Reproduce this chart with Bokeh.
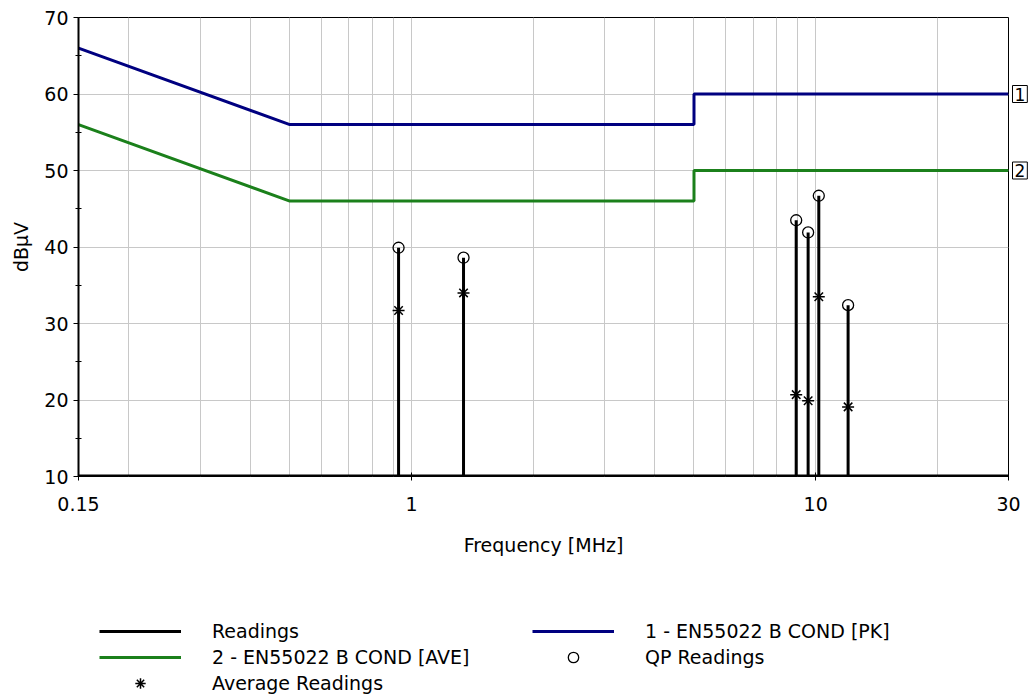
from bokeh.plotting import figure
from bokeh.layouts import column
from bokeh.models import FixedTicker, Legend, LegendItem, Range1d, Label
from bokeh.embed import file_html
from bokeh.resources import INLINE

# ---- data ----
F_MIN, F_MAX = 0.15, 30.0
DB_MIN, DB_MAX = 10, 70
READ_FLOOR = 10

PK_F = [0.15, 0.5, 5.0, 5.0, 30.0]
PK_DB = [66, 56, 56, 60, 60]
AVE_F = [0.15, 0.5, 5.0, 5.0, 30.0]
AVE_DB = [56, 46, 46, 50, 50]

FREQ = [0.929, 1.345, 8.95, 9.58, 10.18, 12.03]
QP = [39.9, 38.6, 43.5, 41.9, 46.7, 32.4]
AVG = [31.7, 34.0, 20.7, 19.9, 33.5, 19.1]

X_TICKS = [0.15, 1, 10, 30]
X_GRID = [0.2, 0.3, 0.4, 0.5, 0.6, 0.7, 0.8, 0.9, 1, 2, 3, 4, 5, 6, 7, 8, 9, 10, 20]
Y_TICKS = [10, 20, 30, 40, 50, 60, 70]
Y_MINOR = [15, 25, 35, 45, 55, 65]
TAG_Y = [PK_DB[-1], AVE_DB[-1]]
TAG_TEXT = ["1", "2"]

FONT = "DejaVu Sans"
FS = "19px"
NAVY = "#000080"
GREEN = "#1b801b"
GRIDC = "#c8c8c8"

# ---------------- main plot ----------------
p = figure(width=1034, height=580, x_axis_type="log",
           x_range=Range1d(F_MIN, F_MAX), y_range=Range1d(DB_MIN, DB_MAX),
           output_backend="svg", toolbar_location=None,
           min_border_left=78, min_border_right=26, min_border_top=17,
           min_border_bottom=104)
p.background_fill_color = "white"
p.border_fill_color = "white"
p.outline_line_color = "black"
p.outline_line_width = 1

p.xgrid.ticker = FixedTicker(ticks=X_GRID)
p.xgrid.grid_line_color = GRIDC
p.ygrid.ticker = FixedTicker(ticks=Y_TICKS)
p.ygrid.grid_line_color = GRIDC

xa = p.xaxis[0]
xa.ticker = FixedTicker(ticks=X_TICKS, minor_ticks=[])
xa.major_label_overrides = {0.15: "0.15", 1: "1", 10: "10", 30: "30"}
xa.axis_label = "Frequency [MHz]"
xa.axis_line_color = None
xa.major_tick_in = 4
xa.major_tick_out = 4
xa.major_label_standoff = 16
xa.axis_label_standoff = 20

ya = p.yaxis[0]
ya.ticker = FixedTicker(ticks=Y_TICKS, minor_ticks=Y_MINOR)
ya.axis_label = "dB\u00b5V"
ya.axis_line_color = "black"
ya.axis_line_width = 2
ya.major_tick_in = 0
ya.major_tick_out = 5
ya.minor_tick_in = 3
ya.minor_tick_out = 3
ya.major_label_standoff = 5
ya.axis_label_standoff = 9

for ax in (xa, ya):
    ax.major_label_text_font = FONT
    ax.major_label_text_font_size = FS
    ax.major_label_text_color = "black"
    ax.axis_label_text_font = FONT
    ax.axis_label_text_font_size = FS
    ax.axis_label_text_font_style = "normal"
    ax.axis_label_text_color = "black"
    ax.major_tick_line_color = "black"
    ax.minor_tick_line_color = "black"

# boxed limit tags, drawn in the border just right of the frame
# (one hosted in the right panel, one in the roomy bottom panel so the frame keeps its size)
for y, t, side in zip(TAG_Y, TAG_TEXT, ["right", "below"]):
    p.add_layout(Label(x=F_MAX, y=y, text=t, x_offset=4, text_baseline="middle",
                       text_font=FONT, text_font_size="17px", text_color="black",
                       border_line_color="black", background_fill_color="white",
                       padding=2), side)

p.line(PK_F, PK_DB, line_color=NAVY, line_width=3)
p.line(AVE_F, AVE_DB, line_color=GREEN, line_width=3)
p.line([F_MIN, F_MAX], [READ_FLOOR, READ_FLOOR], line_color="black", line_width=4)
p.segment(x0=FREQ, y0=[READ_FLOOR] * len(FREQ), x1=FREQ, y1=QP,
          line_color="black", line_width=3)
p.scatter(FREQ, QP, marker="circle", size=11, fill_color=None,
          line_color="black", line_width=1.3)
p.scatter(FREQ, AVG, marker="asterisk", size=12, line_color="black", line_width=1.5)

# ---------------- legend area ----------------
# legend proxies use the series data but lie outside this panel's view
pl = figure(width=1034, height=120, x_range=Range1d(0, 0.01), y_range=Range1d(0, 1),
            output_backend="svg", toolbar_location=None,
            x_axis_location=None, y_axis_location=None,
            min_border_left=0, min_border_right=0, min_border_top=0,
            min_border_bottom=0)
pl.outline_line_color = None
pl.grid.visible = False
pl.background_fill_color = "white"
pl.border_fill_color = "white"

l_read = pl.line(FREQ, QP, line_color="black", line_width=3)
l_pk = pl.line(PK_F, PK_DB, line_color=NAVY, line_width=3)
l_ave = pl.line(AVE_F, AVE_DB, line_color=GREEN, line_width=3)
l_qp = pl.scatter(FREQ, QP, marker="circle", size=10, fill_color=None,
                  line_color="black", line_width=1.3)
l_avg = pl.scatter(FREQ, AVG, marker="asterisk", size=12, line_color="black",
                   line_width=1.5)


def mk_legend(items, loc):
    return Legend(items=items, location=loc, orientation="vertical",
                  glyph_width=82, glyph_height=26, label_height=26, spacing=0,
                  label_standoff=31, padding=0, margin=0,
                  border_line_color=None, background_fill_alpha=0,
                  label_text_font=FONT, label_text_font_size=FS,
                  label_text_color="black")


# legend frame is aligned with the main plot frame (left edge at x=78)
pl.add_layout(mk_legend([LegendItem(label="Readings", renderers=[l_read]),
                         LegendItem(label="2 - EN55022 B COND [AVE]", renderers=[l_ave]),
                         LegendItem(label="Average Readings", renderers=[l_avg])],
                        (21, 4)))
pl.add_layout(mk_legend([LegendItem(label="1 - EN55022 B COND [PK]", renderers=[l_pk]),
                         LegendItem(label="QP Readings", renderers=[l_qp])],
                        (454, 30)))

layout = column(p, pl)
open("out.html", "w").write(file_html(layout, INLINE))
